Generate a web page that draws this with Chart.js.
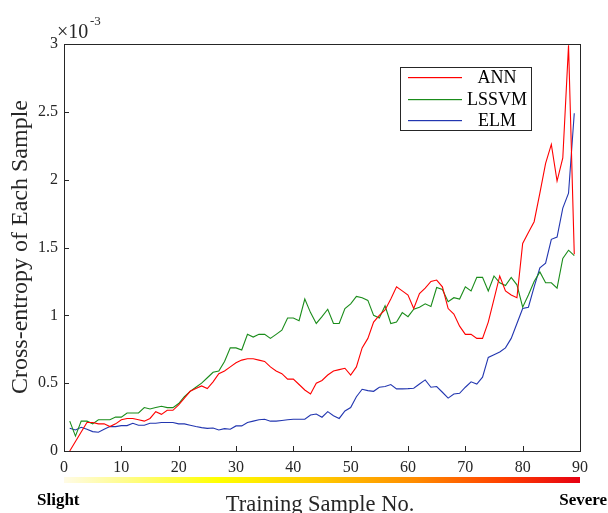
<!DOCTYPE html>
<html>
<head>
<meta charset="utf-8">
<script src="https://cdn.jsdelivr.net/npm/chart.js@4/dist/chart.umd.min.js"></script>
<style>
  html, body { margin: 0; padding: 0; background: #fff; }
  #c { display: block; }
</style>
</head>
<body>
<canvas id="c" width="608" height="513"></canvas>
<script>
// sample numbers (x) and cross-entropy values, in units of 1e-3
var sampleNo = [1,2,3,4,5,6,7,8,9,10,11,12,13,14,15,16,17,18,19,20,21,22,23,24,25,26,27,28,29,30,
  31,32,33,34,35,36,37,38,39,40,41,42,43,44,45,46,47,48,49,50,51,52,53,54,55,56,57,58,59,60,
  61,62,63,64,65,66,67,68,69,70,71,72,73,74,75,76,77,78,79,80,81,82,83,84,85,86,87,88,89];

var annValues = [0,0.07,0.14,0.21,0.21,0.20,0.20,0.18,0.20,0.23,0.24,0.24,0.23,0.22,0.24,0.29,0.27,0.30,0.30,0.34,
  0.39,0.44,0.46,0.48,0.46,0.51,0.57,0.59,0.62,0.65,0.67,0.68,0.68,0.67,0.66,0.62,0.59,0.57,0.53,0.53,
  0.49,0.45,0.42,0.50,0.52,0.56,0.59,0.60,0.61,0.56,0.62,0.76,0.83,0.95,1.00,1.04,1.12,1.21,1.18,1.15,
  1.05,1.16,1.20,1.25,1.26,1.21,1.05,1.01,0.92,0.86,0.86,0.83,0.83,0.95,1.12,1.29,1.18,1.15,1.13,1.53,
  1.61,1.69,1.90,2.12,2.26,1.99,2.16,2.99,1.45];

var lssvmValues = [0.22,0.11,0.22,0.22,0.20,0.23,0.23,0.23,0.25,0.25,0.28,0.28,0.28,0.32,0.31,0.32,0.33,0.32,0.32,0.35,
  0.40,0.44,0.47,0.50,0.54,0.58,0.59,0.66,0.76,0.76,0.745,0.86,0.84,0.86,0.86,0.83,0.86,0.89,0.98,0.98,
  0.96,1.12,1.02,0.94,0.99,1.045,0.94,0.94,1.05,1.085,1.14,1.13,1.11,1.00,0.98,1.07,0.94,0.95,1.02,0.99,
  1.045,1.06,1.085,1.065,1.205,1.19,1.10,1.13,1.12,1.21,1.18,1.28,1.28,1.18,1.29,1.24,1.22,1.28,1.225,1.06,
  1.15,1.25,1.32,1.24,1.24,1.20,1.42,1.48,1.44];

var elmValues = [0.167,0.155,0.175,0.16,0.143,0.138,0.16,0.18,0.18,0.187,0.187,0.204,0.19,0.19,0.204,0.204,0.21,0.21,0.21,0.20,
  0.20,0.19,0.18,0.172,0.167,0.17,0.155,0.165,0.16,0.185,0.185,0.21,0.22,0.23,0.234,0.22,0.22,0.225,0.23,0.234,
  0.234,0.234,0.265,0.273,0.249,0.29,0.26,0.24,0.295,0.32,0.40,0.455,0.445,0.44,0.47,0.475,0.49,0.458,0.458,0.46,
  0.463,0.494,0.524,0.47,0.475,0.433,0.39,0.42,0.425,0.47,0.51,0.494,0.544,0.69,0.71,0.73,0.76,0.83,0.94,1.05,
  1.06,1.21,1.35,1.385,1.56,1.577,1.79,1.90,2.49];

var seriesNames = ["ANN", "LSSVM", "ELM"];
var xTicks = [0,10,20,30,40,50,60,70,80,90];
var yTicks = [0,0.5,1,1.5,2,2.5,3];

var serif = "'Liberation Serif', 'Times New Roman', serif";
var colors = ["#ff0000", "#1a8c1a", "#2236b0"];

// draws frame, inward ticks, legend, exponent, gradient bar and captions
var decorPlugin = {
  id: "decor",
  afterDraw: function(chart) {
    var ctx = chart.ctx;
    var a = chart.chartArea;
    var xs = chart.scales.x, ys = chart.scales.y;
    ctx.save();

    // box
    ctx.strokeStyle = "#262626";
    ctx.lineWidth = 1;
    ctx.strokeRect(Math.round(a.left) + 0.5, Math.round(a.top) + 0.5,
      Math.round(a.right - a.left), Math.round(a.bottom - a.top));

    // inward ticks
    ctx.beginPath();
    xTicks.forEach(function(v) {
      var px = Math.round(xs.getPixelForValue(v)) + 0.5;
      ctx.moveTo(px, a.bottom);
      ctx.lineTo(px, a.bottom - 5);
    });
    yTicks.forEach(function(v) {
      var py = Math.round(ys.getPixelForValue(v)) + 0.5;
      ctx.moveTo(a.left, py);
      ctx.lineTo(a.left + 5, py);
    });
    ctx.stroke();

    // exponent label
    ctx.fillStyle = "#262626";
    ctx.textBaseline = "alphabetic";
    ctx.textAlign = "left";
    ctx.font = "20px " + serif;
    ctx.fillText("\u00d710", 57, 38);
    ctx.font = "13px " + serif;
    ctx.fillText("-3", 90, 25);

    // legend
    var lx = 400, ly = 67, lw = 131, lh = 63;
    ctx.fillStyle = "#fff";
    ctx.fillRect(lx, ly, lw, lh);
    ctx.strokeStyle = "#262626";
    ctx.strokeRect(lx + 0.5, ly + 0.5, lw, lh);
    ctx.font = "18px " + serif;
    ctx.textAlign = "center";
    ctx.textBaseline = "middle";
    for (var i = 0; i < seriesNames.length; i++) {
      var yy = Math.round(ly + 10 + i * 21.5);
      ctx.fillStyle = colors[i];
      ctx.fillRect(lx + 8, yy, 54, 1.2);
      ctx.fillStyle = "#000";
      ctx.fillText(seriesNames[i], lx + 97, yy + 1);
    }

    // severity gradient bar
    var g = ctx.createLinearGradient(a.left, 0, a.right, 0);
    g.addColorStop(0, "#fffbe6");
    g.addColorStop(0.3, "#ffff00");
    g.addColorStop(0.5, "#ffc800");
    g.addColorStop(0.68, "#ff8c00");
    g.addColorStop(0.85, "#ff4000");
    g.addColorStop(1, "#e60012");
    ctx.fillStyle = g;
    ctx.fillRect(a.left, 477, a.right - a.left, 6);

    // captions
    ctx.fillStyle = "#000";
    ctx.font = "bold 17px " + serif;
    ctx.textAlign = "left";
    ctx.textBaseline = "middle";
    ctx.fillText("Slight", 37, 501);
    ctx.textAlign = "right";
    ctx.fillText("Severe", 607, 501);

    ctx.font = "22.5px " + serif;
    ctx.textAlign = "center";
    ctx.fillStyle = "#262626";
    ctx.fillText("Training Sample No.", 320, 505);

    ctx.font = "24px " + serif;
    ctx.translate(21, 247);
    ctx.rotate(-Math.PI / 2);
    ctx.fillText("Cross-entropy of Each Sample", 0, 0);
    ctx.restore();
  }
};

var chart = new Chart(document.getElementById("c").getContext("2d"), {
  type: "line",
  data: {
    labels: sampleNo,
    datasets: [
      { label: seriesNames[0], data: annValues, borderColor: colors[0] },
      { label: seriesNames[1], data: lssvmValues, borderColor: colors[1] },
      { label: seriesNames[2], data: elmValues, borderColor: colors[2] }
    ]
  },
  options: {
    responsive: false,
    animation: false,
    devicePixelRatio: 1,
    layout: { padding: { left: 0, right: 28, top: 44, bottom: 0 } },
    elements: {
      line: { borderWidth: 1.1, tension: 0, fill: false },
      point: { radius: 0 }
    },
    plugins: {
      legend: { display: false },
      tooltip: { enabled: false }
    },
    scales: {
      x: {
        type: "linear",
        min: 0, max: 90,
        afterBuildTicks: function(s) { s.ticks = xTicks.map(function(v) { return { value: v }; }); },
        afterFit: function(s) { s.height = 62; },
        grid: { display: false, drawTicks: false },
        border: { display: false },
        ticks: { color: "#262626", font: { family: serif, size: 16 }, padding: 7, maxRotation: 0 }
      },
      y: {
        min: 0, max: 3,
        afterBuildTicks: function(s) { s.ticks = yTicks.map(function(v) { return { value: v }; }); },
        afterFit: function(s) { s.width = 64; },
        grid: { display: false, drawTicks: false },
        border: { display: false },
        ticks: {
          color: "#262626", font: { family: serif, size: 16 }, padding: 6,
          callback: function(v) { return String(v); }
        }
      }
    }
  },
  plugins: [decorPlugin]
});
</script>
</body>
</html>
